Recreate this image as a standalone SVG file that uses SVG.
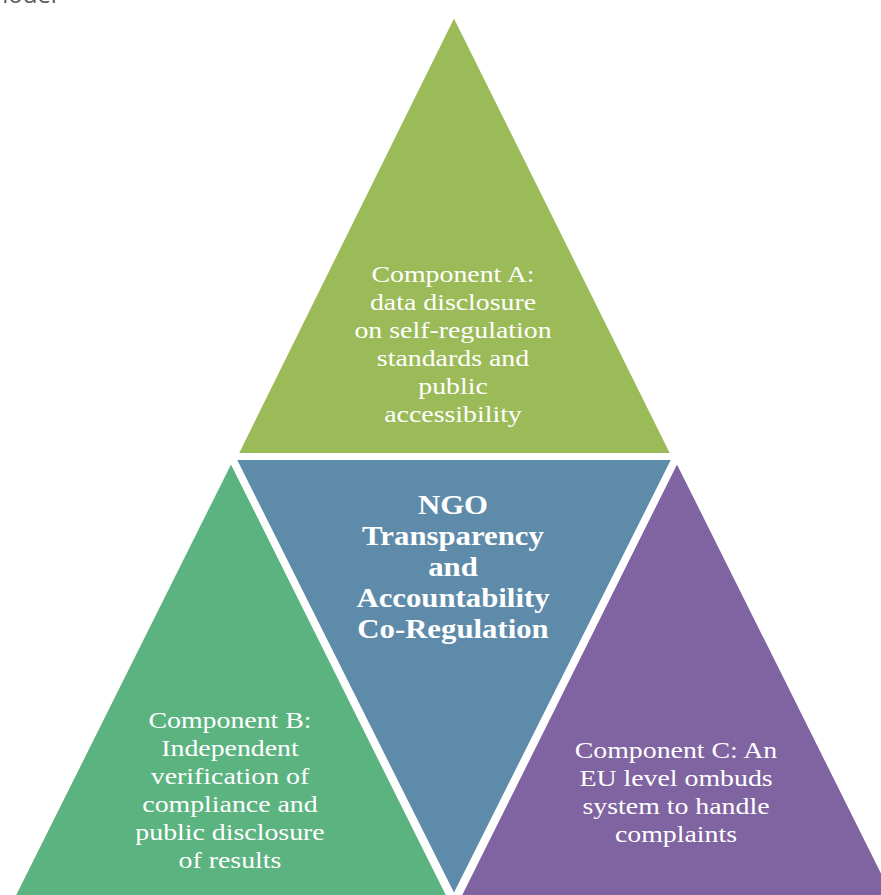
<svg xmlns="http://www.w3.org/2000/svg" width="881" height="895" viewBox="0 0 881 895">
<style>
.lbl{font-family:"Liberation Serif","DejaVu Serif",serif;font-size:24px;fill:#ffffff;text-anchor:middle}
.ctr{font-family:"Liberation Serif","DejaVu Serif",serif;font-size:27px;font-weight:bold;fill:#ffffff;text-anchor:middle}
.tri{stroke:#ffffff;stroke-width:4;stroke-linejoin:miter}
</style>
<rect width="881" height="895" fill="#ffffff"/>
<text x="-14" y="3" font-family="Open Sans, sans-serif" font-size="24" fill="#595959">model</text>
<g id="component-a">
<polygon class="tri" points="454,14 236,455 673,455" fill="#9BBB59"/>
<text class="lbl" transform="translate(453 0) scale(1.16 1)"><tspan x="0" y="282">Component A:</tspan><tspan x="0" y="310">data disclosure</tspan><tspan x="0" y="338">on self-regulation</tspan><tspan x="0" y="366">standards and</tspan><tspan x="0" y="394">public</tspan><tspan x="0" y="422">accessibility</tspan></text>
</g>
<g id="center">
<polygon class="tri" points="234,458 674,458 454,897" fill="#5F8BAA"/>
<text class="ctr" transform="translate(453 0) scale(1.14 1)"><tspan x="0" y="514">NGO</tspan><tspan x="0" y="545">Transparency</tspan><tspan x="0" y="576">and</tspan><tspan x="0" y="607">Accountability</tspan><tspan x="0" y="638">Co-Regulation</tspan></text>
</g>
<g id="component-b">
<polygon class="tri" points="231,460 12,899 450,899" fill="#5BB37F"/>
<text class="lbl" transform="translate(230 0) scale(1.16 1)"><tspan x="0" y="728">Component B:</tspan><tspan x="0" y="756">Independent</tspan><tspan x="0" y="784">verification of</tspan><tspan x="0" y="812">compliance and</tspan><tspan x="0" y="840">public disclosure</tspan><tspan x="0" y="868">of results</tspan></text>
</g>
<g id="component-c">
<polygon class="tri" points="677,460 458,899 896,899" fill="#8064A2"/>
<text class="lbl" transform="translate(676 0) scale(1.16 1)"><tspan x="0" y="758">Component C: An</tspan><tspan x="0" y="786">EU level ombuds</tspan><tspan x="0" y="814">system to handle</tspan><tspan x="0" y="842">complaints</tspan></text>
</g>
<g id="connectors"/>
</svg>
